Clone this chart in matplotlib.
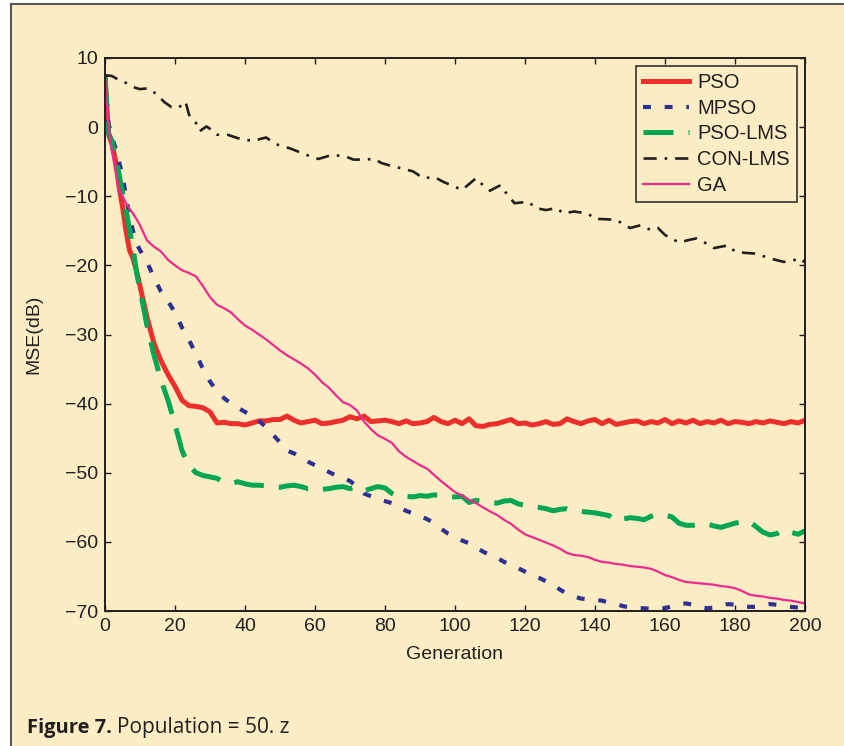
import numpy as np
import matplotlib
matplotlib.use("Agg")
import matplotlib.pyplot as plt
from matplotlib.patches import Rectangle

## data (MSE in dB vs generation)
gens = [0, 1, 2, 3, 4, 5, 6, 7, 8, 9, 10] + list(range(12, 201, 2))

pso = [7.3, -1.0, -2.5, -4.8, -8.5, -11.5, -15.0, -17.8, -19.0, -20.8, -23.0,
       -27.5, -31.3, -33.8, -35.8, -37.5, -39.5, -40.3, -40.4, -40.6, -41.2,
       -42.8, -42.7, -42.9, -42.9, -43.1, -42.8, -42.5, -42.5, -42.3, -42.3,
       -41.8, -42.4, -42.8, -42.6, -42.4, -42.9, -42.8, -42.6, -42.4, -41.9,
       -42.2, -41.8, -42.6, -42.5, -42.4, -42.6, -42.9, -42.5, -42.9, -42.8,
       -42.6, -42.0, -42.6, -42.9, -42.4, -42.9, -42.2, -43.2, -43.3, -43.0,
       -42.9, -42.6, -42.3, -42.9, -42.8, -43.1, -42.9, -42.6, -43.0, -42.9,
       -42.2, -42.6, -42.9, -42.5, -42.3, -42.9, -42.4, -43.0, -42.8, -42.6,
       -42.5, -42.9, -42.6, -42.8, -42.3, -42.9, -42.5, -42.8, -42.4, -42.9,
       -42.6, -42.8, -42.4, -42.9, -42.6, -42.7, -42.9, -42.6, -42.8, -42.5,
       -42.7, -42.9, -42.6, -42.8, -42.4]

mpso = [7.3, 0.5, -1.5, -3.0, -5.0, -7.0, -10.0, -13.0, -15.0, -16.8, -17.8,
        -19.5, -21.8, -23.8, -25.2, -26.8, -29.0, -30.8, -32.8, -35.0, -36.8,
        -38.2, -39.2, -40.0, -40.6, -41.2, -41.7, -42.5, -43.4, -44.5, -45.6,
        -46.8, -47.2, -47.8, -48.4, -48.9, -49.4, -49.9, -50.4, -50.7, -51.2,
        -52.0, -53.0, -53.4, -53.8, -54.1, -54.4, -55.0, -55.5, -55.9, -56.3,
        -56.7, -57.3, -58.1, -58.8, -59.3, -59.8, -60.2, -60.8, -61.4, -61.9,
        -62.3, -62.9, -63.3, -63.8, -64.3, -64.8, -65.2, -65.7, -66.2, -66.9,
        -67.5, -67.9, -68.2, -68.3, -68.4, -68.5, -68.8, -69.0, -69.3, -69.5,
        -69.6, -69.6, -69.7, -69.6, -69.6, -69.3, -69.0, -68.9, -69.1, -69.4,
        -69.6, -69.5, -69.2, -69.0, -69.1, -69.3, -69.4, -69.4, -69.2, -69.0,
        -69.1, -69.2, -69.4, -69.5, -69.4]

pso_lms = [7.3, -0.9, -2.0, -4.5, -6.8, -9.5, -12.0, -14.8, -17.5, -21.0, -23.5,
           -28.7, -33.0, -36.6, -39.5, -43.0, -46.8, -49.0, -50.0, -50.4, -50.6,
           -50.8, -51.4, -51.5, -51.3, -51.6, -51.8, -51.8, -51.9, -52.0, -52.1,
           -51.9, -51.8, -52.0, -52.3, -52.2, -52.4, -52.3, -52.1, -52.0, -52.3,
           -52.0, -52.6, -52.3, -52.0, -52.2, -53.0, -53.5, -53.4, -53.5, -53.3,
           -53.4, -53.2, -53.3, -53.4, -53.5, -53.4, -54.3, -54.0, -54.1, -54.3,
           -54.4, -54.1, -54.0, -54.5, -54.7, -54.9, -55.0, -55.2, -55.5, -55.3,
           -55.2, -55.5, -55.6, -55.7, -55.8, -56.0, -56.2, -57.0, -56.7, -56.5,
           -56.6, -56.8, -56.3, -56.0, -56.1, -56.4, -57.3, -57.6, -57.6, -57.5,
           -57.4, -57.7, -57.9, -57.6, -57.3, -57.1, -57.0, -57.8, -58.6, -59.0,
           -58.8, -58.2, -58.6, -58.9, -58.4]

ga = [7.3, 0.0, -3.5, -6.3, -8.8, -10.0, -11.0, -11.8, -12.5, -13.3, -14.2,
      -16.4, -17.3, -18.0, -19.2, -20.0, -20.7, -21.1, -21.6, -23.0, -24.6,
      -25.7, -26.2, -26.8, -27.8, -28.7, -29.3, -30.0, -30.7, -31.5, -32.3,
      -33.0, -33.6, -34.2, -34.9, -35.8, -36.9, -37.7, -38.8, -39.8, -40.2,
      -41.0, -42.6, -43.7, -44.6, -45.1, -45.7, -46.9, -47.7, -48.3, -48.9,
      -49.4, -50.3, -51.2, -52.0, -52.8, -53.3, -53.9, -54.4, -55.0, -55.6,
      -56.1, -56.8, -57.4, -58.2, -58.9, -59.3, -59.7, -60.1, -60.5, -61.0,
      -61.6, -61.9, -62.0, -62.2, -62.6, -62.9, -63.0, -63.2, -63.3, -63.5,
      -63.6, -63.7, -63.9, -64.3, -64.8, -65.1, -65.5, -65.8, -65.9, -66.0,
      -66.1, -66.2, -66.4, -66.5, -66.7, -67.1, -67.6, -67.8, -67.9, -68.1,
      -68.2, -68.4, -68.5, -68.7, -68.9]

con_gen = [0, 2, 4, 6, 8, 10, 12, 13, 15, 17, 19, 20, 21, 23, 24, 26, 27, 29, 31, 32,
           35, 38, 40, 43, 46, 49, 51, 53, 56, 59, 61, 65, 69, 71, 74, 77, 79, 81, 85, 88,
           91, 94, 97, 99, 102, 106, 108, 110, 113, 115, 117, 121, 123, 126, 129, 131, 134, 138, 140, 142,
           146, 150, 153, 156, 158, 160, 164, 167, 169, 171, 174, 178, 180, 183, 186, 190, 194, 197, 199, 200]
con_lms = [7.5, 7.4, 6.8, 6.4, 5.8, 5.5, 5.6, 5.5, 4.6, 3.6, 2.9, 2.9, 2.8, 3.7, 1.8, 0.6, -0.6, 0.1, -0.6, -1.1,
           -1.1, -1.6, -1.9, -1.9, -1.5, -2.5, -2.8, -3.1, -3.7, -4.3, -4.6, -4.0, -4.3, -4.7, -4.7, -4.6, -5.2, -5.5, -6.0, -6.4,
           -7.4, -7.2, -8.0, -8.4, -9.1, -7.4, -8.4, -9.2, -8.4, -9.8, -11.0, -10.8, -11.7, -12.0, -11.7, -12.5, -12.2, -12.5, -13.3, -13.3,
           -13.4, -14.6, -14.2, -14.9, -14.6, -15.6, -16.7, -16.3, -16.1, -16.6, -17.5, -17.1, -18.0, -18.2, -18.3, -19.0, -19.5, -19.2, -19.7, -19.2]

labels = ['PSO', 'MPSO', 'PSO-LMS', 'CON-LMS', 'GA']
xticks = list(range(0, 201, 20))
yticks = list(range(-70, 11, 10))

## style
bg = '#fdedc4'
ink = '#231f20'
plt.rcParams['font.family'] = ['Liberation Sans', 'DejaVu Sans']
plt.rcParams['text.color'] = ink

fig = plt.figure(figsize=(8.45, 7.46), dpi=100, facecolor='white')
# page panel: only its left and top edges are visible
panel = Rectangle((11 / 845, -0.01), 1.0, 1 - 4 / 746 + 0.01,
                  transform=fig.transFigure, facecolor=bg,
                  edgecolor='#58595b', linewidth=1.5, zorder=-10)
fig.add_artist(panel)

ax = fig.add_axes([105 / 845, 135 / 746, 700 / 845, 553 / 746])
ax.set_facecolor('none')

ax.plot(gens, pso, '-', color='#ec2f2b', linewidth=3.6, label=labels[0])
ax.plot(gens, mpso, color='#2e3192', linewidth=3.0, linestyle=(0, (1.9, 3.3)), label=labels[1])
ax.plot(gens, pso_lms, color='#00a651', linewidth=3.6, linestyle=(0, (6.0, 3.0)), label=labels[2])
ax.plot(con_gen, con_lms, color=ink, linewidth=1.9, linestyle=(0, (5, 3, 1, 3)), label=labels[3])
ax.plot(gens, ga, '-', color='#ec2a8f', linewidth=1.6, label=labels[4])

ax.set_xlim(0, 200)
ax.set_ylim(-70, 10)
ax.set_xticks(xticks)
ax.set_yticks(yticks)
ax.tick_params(direction='in', length=4.5, width=1.0, top=True, right=True,
               labelsize=14, colors=ink, pad=5)
for s in ax.spines.values():
    s.set_linewidth(1.4)
    s.set_color(ink)

ax.set_xlabel('Generation', fontsize=14, color=ink)
ax.set_ylabel('MSE(dB)', fontsize=14, color=ink)
ax.xaxis.set_label_coords(0.5, -0.064)
ax.yaxis.set_label_coords(-0.089, 0.5)

leg = ax.legend(loc='upper right', bbox_to_anchor=(0.9886, 0.9855), borderaxespad=0,
                fontsize=14.5, frameon=True, fancybox=False, handlelength=2.3,
                handletextpad=0.4, labelspacing=0.33, borderpad=0.35)
leg.get_frame().set_facecolor(bg)
leg.get_frame().set_edgecolor(ink)
leg.get_frame().set_linewidth(1.1)
leg.get_frame().set_alpha(1)
for t in leg.get_texts():
    t.set_color(ink)

## caption
t1 = fig.text(27 / 845, 1 - 738 / 746, 'Figure 7.', fontsize=14.5, fontweight='bold',
              family=['Open Sans', 'DejaVu Sans'], va='bottom', ha='left', color=ink)
t2 = plt.Annotation('Population = 50. z', xy=(1, 0), xycoords=t1, xytext=(4, 0),
                    textcoords='offset points', fontsize=15, family=['Open Sans', 'DejaVu Sans'],
                    va='bottom', ha='left', color=ink, annotation_clip=False)
fig.add_artist(t2)

fig.savefig('out.png', dpi=100, facecolor=fig.get_facecolor())
